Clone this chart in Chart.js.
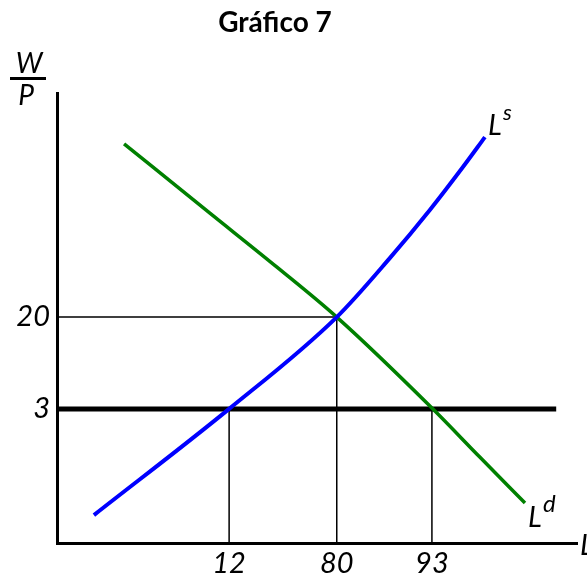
<!DOCTYPE html>
<html>
<head>
<meta charset="utf-8">
<script src="https://cdn.jsdelivr.net/npm/chart.js"></script>
<style>
html,body{margin:0;padding:0;background:#fff;}
#wrap{width:587px;height:576px;}
</style>
</head>
<body>
<div id="wrap"><canvas id="grafico"></canvas></div>
<script>
// curvas de oferta y demanda de trabajo (unidades del dibujo, ejes 0-100)
const ofertaX=[7.1,33.1,53.8,64.0,71.7,78.1,82.3];
const ofertaY=[6.2,29.8,50.2,63.3,74.0,83.6,90.2];
const demandaX=[12.9,29.4,42.3,53.8,72.1,81.3,90.0];
const demandaY=[88.7,73.3,61.3,50.2,30.0,19.1,8.9];

// marcas de los ejes
const xTickAt=[33.1,53.8,72.1];
const xTickLabels=['12','80','93'];
const yTickAt=[50.2,29.8];
const yTickLabels=['20','3'];

// salario real fijado (linea gruesa) y su extremo derecho
const salarioFijo=29.8;
const salarioFin=96;

const pts=(xs,ys)=>xs.map((v,i)=>({x:v,y:ys[i]}));

const etiquetas={
    id:'etiquetas',
    afterDraw(chart){
        const {ctx,scales:{x,y}}=chart;
        ctx.save();
        ctx.fillStyle='#000';
        ctx.textBaseline='alphabetic';
        ctx.textAlign='center';
        ctx.font='bold 28px Lato';
        ctx.fillText('Gráfico 7',275,32);

        ctx.font='italic 28px Lato';
        ctx.fillText('W',29,73);
        ctx.fillRect(10,77,36,3);
        ctx.fillText('P',26,105);

        ctx.textAlign='left';
        // L^s al final de la oferta
        let n=ofertaX.length-1;
        let px=x.getPixelForValue(ofertaX[n]), py=y.getPixelForValue(ofertaY[n]);
        ctx.font='italic 29px Lato';
        ctx.fillText('L',px+3,py-2);
        ctx.font='italic 22px Lato';
        ctx.fillText('s',px+18,py-17);
        // L^d al final de la demanda
        n=demandaX.length-1;
        px=x.getPixelForValue(demandaX[n]); py=y.getPixelForValue(demandaY[n]);
        ctx.font='italic 29px Lato';
        ctx.fillText('L',px+3,py+24);
        ctx.font='italic 24px Lato';
        ctx.fillText('d',px+18,py+9);
        // L del eje horizontal
        ctx.font='italic 29px Lato';
        ctx.fillText('L',x.right+3,y.bottom+12);
        ctx.restore();
    }
};

const ctx=document.getElementById('grafico').getContext('2d');
const grafico=new Chart(ctx,{
    type:'scatter',
    data:{
        datasets:[
            {data:pts(ofertaX,ofertaY),showLine:true,borderColor:'#0000ff',borderWidth:4,cubicInterpolationMode:'monotone',pointRadius:0},
            {data:pts(demandaX,demandaY),showLine:true,borderColor:'#008000',borderWidth:3.5,cubicInterpolationMode:'monotone',pointRadius:0},
            {data:[{x:0,y:salarioFijo},{x:salarioFin,y:salarioFijo}],showLine:true,borderColor:'#000',borderWidth:5,pointRadius:0},
            {data:[{x:0,y:yTickAt[0]},{x:xTickAt[1],y:yTickAt[0]},{x:xTickAt[1],y:0}],showLine:true,borderColor:'#000',borderWidth:1.5,pointRadius:0},
            {data:[{x:xTickAt[0],y:salarioFijo},{x:xTickAt[0],y:0}],showLine:true,borderColor:'#000',borderWidth:1.5,pointRadius:0},
            {data:[{x:xTickAt[2],y:salarioFijo},{x:xTickAt[2],y:0}],showLine:true,borderColor:'#000',borderWidth:1.5,pointRadius:0}
        ]
    },
    options:{
        responsive:true,
        maintainAspectRatio:false,
        animation:false,
        events:[],
        layout:{padding:{top:93,right:10,left:0,bottom:0}},
        plugins:{legend:{display:false},tooltip:{enabled:false}},
        scales:{
            x:{
                type:'linear',min:0,max:100,
                grid:{display:false,drawTicks:false},
                border:{display:true,color:'#000',width:3},
                afterBuildTicks:(s)=>{s.ticks=xTickAt.map(v=>({value:v}));},
                afterFit:(s)=>{s.height=33;},
                ticks:{color:'#000',padding:3,font:{family:'Lato',style:'italic',size:29},callback:(v,i)=>xTickLabels[i]}
            },
            y:{
                type:'linear',min:0,max:100,
                grid:{display:false,drawTicks:false},
                border:{display:true,color:'#000',width:3},
                afterBuildTicks:(s)=>{s.ticks=yTickAt.map(v=>({value:v}));},
                afterFit:(s)=>{s.width=57;},
                ticks:{color:'#000',padding:7,font:{family:'Lato',style:'italic',size:29},callback:(v,i)=>yTickLabels[i]}
            }
        }
    },
    plugins:[etiquetas]
});
</script>
</body>
</html>
